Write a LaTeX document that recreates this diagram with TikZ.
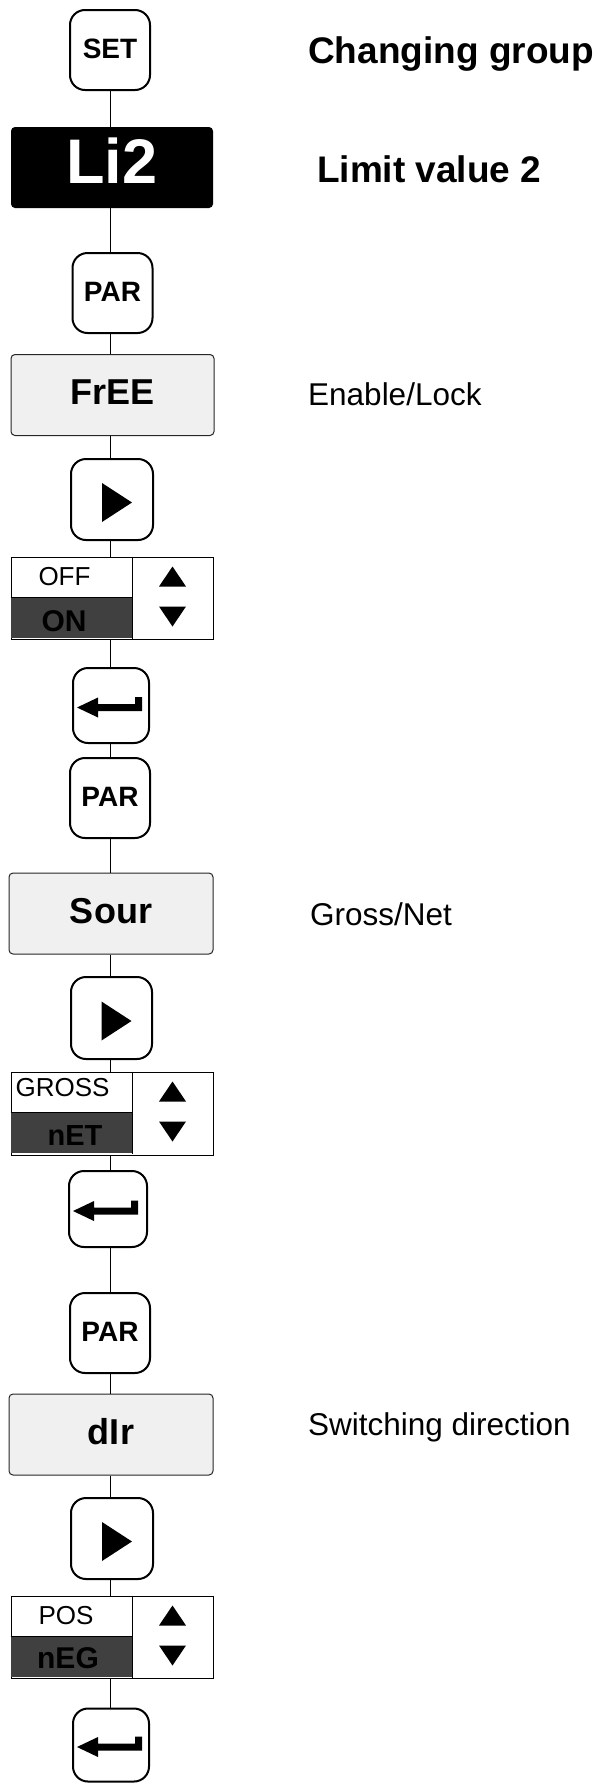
\documentclass[tikz,border=0pt]{standalone}
\usepackage{fontspec}
\setmainfont{Liberation Sans}
\usetikzlibrary{calc}
\newcommand{\myfs}[1]{\fontsize{#1}{#1}\selectfont}
\begin{document}
\begin{tikzpicture}[x=1pt,y=-1pt,
  conn/.style={line width=1pt},
  keybox/.style={draw, line width=2pt, rounded corners=15pt, minimum width=80pt, minimum height=80pt, inner sep=0pt, fill=white, font=\myfs{28}\bfseries, text height=16pt, text depth=0pt},
  disp/.style={draw=black!85, line width=1pt, rounded corners=4pt, fill=gray!12, minimum width=203pt, minimum height=81pt, inner sep=0pt, font=\myfs{36}\bfseries, text height=19pt, text depth=0pt},
  blackdisp/.style={fill=black, rounded corners=4pt, minimum width=202pt, minimum height=81pt, inner sep=0pt, text=white, font=\myfs{63}\bfseries, text height=31pt, text depth=0pt},
  togbox/.style={draw, line width=1pt, minimum width=202pt, minimum height=82pt, inner sep=0pt},
  togsel/.style={fill=black!75},
  togline/.style={line width=1pt},
  togtop/.style={anchor=base, inner sep=0pt, font=\myfs{26}},
  togbot/.style={anchor=base, inner sep=0pt, font=\myfs{30}\bfseries},
  lblbold/.style={anchor=base west, inner sep=0pt, font=\myfs{37}\bfseries},
  lbl/.style={anchor=base west, inner sep=0pt, font=\myfs{31.5}}
]
\useasboundingbox (0,0) rectangle (600,1783);
\coordinate (ax) at (110,0);

% nodes
\node[keybox] (set) at (110,50) {SET};
\node[blackdisp] (li) at (112,167.5) {Li2};
\node[keybox] (par1) at (112.5,293) {PAR};
\node[disp] (free) at (112.5,395) {FrEE};
\node[keybox, minimum width=82pt, minimum height=81pt] (play1) at (112,499.5) {};
\node[togbox] (tog1) at (112,598) {};
\node[keybox, minimum width=76pt, minimum height=75pt] (ent1) at (111,705.5) {};
\node[keybox] (par2) at (110,798) {PAR};
\node[disp, minimum width=204pt] (sour) at (111,913.5) {Sour};
\node[keybox, minimum width=81pt, minimum height=82pt] (play2) at (111.5,1018) {};
\node[togbox, minimum height=83pt] (tog2) at (112,1113.5) {};
\node[keybox, minimum width=78pt, minimum height=76pt] (ent2) at (108,1209) {};
\node[keybox] (par3) at (110,1333) {PAR};
\node[disp, minimum width=204pt] (dir) at (111,1434.5) {dIr};
\node[keybox, minimum width=82pt, minimum height=81pt] (play3) at (112,1538.5) {};
\node[togbox] (tog3) at (112,1637) {};
\node[keybox, minimum width=76pt, minimum height=73pt] (ent3) at (111,1745) {};

% connectors
\draw[conn] (set.south -| ax) -- (li.north -| ax);
\draw[conn] (li.south -| ax) -- (par1.north -| ax);
\draw[conn] (par1.south -| ax) -- (free.north -| ax);
\draw[conn] (free.south -| ax) -- (play1.north -| ax);
\draw[conn] (play1.south -| ax) -- (tog1.north -| ax);
\draw[conn] (tog1.south -| ax) -- (ent1.north -| ax);
\draw[conn] (ent1.south -| ax) -- (par2.north -| ax);
\draw[conn] (par2.south -| ax) -- (sour.north -| ax);
\draw[conn] (sour.south -| ax) -- (play2.north -| ax);
\draw[conn] (play2.south -| ax) -- (tog2.north -| ax);
\draw[conn] (tog2.south -| ax) -- (ent2.north -| ax);
\draw[conn] (ent2.south -| ax) -- (par3.north -| ax);
\draw[conn] (par3.south -| ax) -- (dir.north -| ax);
\draw[conn] (dir.south -| ax) -- (play3.north -| ax);
\draw[conn] (play3.south -| ax) -- (tog3.north -| ax);
\draw[conn] (tog3.south -| ax) -- (ent3.north -| ax);

% play triangles
\foreach \k in {play1,play2,play3}{
  \fill[shift={(\k.center)}] (-10,-16.5) -- (20,3) -- (-10,22.5) -- cycle;
}
% enter arrows
\foreach \k/\dx in {ent1/0,ent2/-1,ent3/0}{
  \fill[shift={(\k.center)}, xshift=\dx pt] (-34,2) -- (-13,-8) -- (-13,-1.5) -- (24,-1.5) -- (24,-8.5) -- (31,-8.5) -- (31,5.5) -- (-13,5.5) -- (-13,12) -- cycle;
}

% toggle boxes interior
\foreach \t in {tog1,tog2,tog3}{
  \begin{scope}[shift={(\t.north west)}]
    \fill[togsel] (0.5,41) rectangle (122,81.5);
    \draw[togline] (122,0) -- (122,82);
    \draw[togline] (0,41) -- (122,41);
    \fill (148.5,30) -- (175.5,30) -- (162,10) -- cycle;
    \fill (148.5,50) -- (175.5,50) -- (162,70) -- cycle;
  \end{scope}
}
\node[togtop] (off) at ($(tog1.north west)+(54,29)$) {OFF};
\node[togbot] (on) at ($(tog1.north west)+(53.5,75)$) {ON};
\node[togtop] (gross) at ($(tog2.north west)+(52,25)$) {GROSS};
\node[togbot, font=\myfs{29}\bfseries] (net) at ($(tog2.north west)+(64.5,74)$) {nET};
\node[togtop] (pos) at ($(tog3.north west)+(55.5,29)$) {POS};
\node[togbot] (neg) at ($(tog3.north west)+(57.5,73)$) {nEG};

% right labels
\node[lblbold] (tchg) at (308,63) {Changing group};
\node[lblbold] (tlim) at (317,182) {Limit value 2};
\node[lbl] (tfree) at (308,405) {Enable/Lock};
\node[lbl] (tsour) at (310,925) {Gross/Net};
\node[lbl] (tdir) at (308,1435) {Switching direction};
\end{tikzpicture}
\end{document}
